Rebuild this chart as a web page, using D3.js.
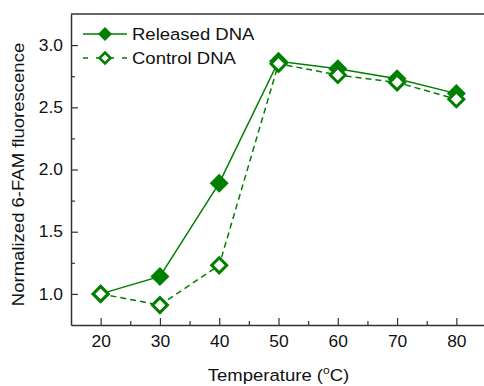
<!DOCTYPE html>
<meta charset="utf-8">
<script src="https://d3js.org/d3.v7.min.js"></script>
<style>
body { margin: 0; background: #fff; }
text { font-family: "Liberation Sans", Arial, sans-serif; fill: #111; }
.wide { transform-box: fill-box; transform-origin: center; transform: scaleX(1.09); }
.wideR { transform-box: fill-box; transform-origin: right center; transform: scaleX(1.09); }
.wideL { transform-box: fill-box; transform-origin: left center; transform: scaleX(1.09); }
</style>
<body>
<script>
// Data
var temps = [20, 30, 40, 50, 60, 70, 80];
var released = [1.00, 1.14, 1.89, 2.87, 2.81, 2.73, 2.61];
var control = [1.00, 0.91, 1.23, 2.85, 2.76, 2.70, 2.565];
var xTicks = [20, 30, 40, 50, 60, 70, 80];
var yTicks = [1.0, 1.5, 2.0, 2.5, 3.0];

var width = 484, height = 386;
var margin = {top: 14, right: -2, bottom: 61, left: 71};
var green = "#007f00", axisColor = "#333";

var svg = d3.select("body").append("svg")
    .attr("width", width).attr("height", height);

var x = d3.scaleLinear().domain([15, 85]).range([margin.left, width - margin.right]);
var y = d3.scaleLinear().domain([0.75, 3.25]).range([height - margin.bottom, margin.top]);

// frame
svg.append("line").attr("x1", margin.left).attr("x2", width)
    .attr("y1", margin.top).attr("y2", margin.top)
    .attr("stroke", axisColor).attr("stroke-width", 1.5);

// x axis, ticks inside
var xAxis = svg.append("g")
    .attr("transform", "translate(0," + (height - margin.bottom) + ")")
    .call(d3.axisBottom(x).tickValues(xTicks).tickSizeInner(-7).tickSizeOuter(0).tickFormat(d3.format("d")));
xAxis.selectAll(".tick text").attr("y", 11).attr("font-size", 16).attr("class", "wide");
svg.append("g")
    .attr("transform", "translate(0," + (height - margin.bottom) + ")")
    .call(d3.axisBottom(x).tickValues([25, 35, 45, 55, 65, 75]).tickSize(-4).tickFormat(""))
    .select(".domain").remove();

// y axis, ticks inside
var yAxis = svg.append("g")
    .attr("transform", "translate(" + margin.left + ",0)")
    .call(d3.axisLeft(y).tickValues(yTicks).tickSizeInner(-7).tickSizeOuter(0).tickFormat(d3.format(".1f")));
yAxis.selectAll(".tick text").attr("x", -8).attr("font-size", 16).attr("class", "wideR");
svg.append("g")
    .attr("transform", "translate(" + margin.left + ",0)")
    .call(d3.axisLeft(y).tickValues([1.25, 1.75, 2.25, 2.75]).tickSize(-4).tickFormat(""))
    .select(".domain").remove();

svg.selectAll(".domain").attr("stroke", axisColor).attr("stroke-width", 1.5);
svg.selectAll(".tick line").attr("stroke", axisColor).attr("stroke-width", 1.2);
svg.selectAll(".tick text").attr("fill", "#111").attr("font-family", "Liberation Sans, Arial, sans-serif");

// axis titles
svg.append("g")
    .attr("transform", "translate(24," + ((margin.top + height - margin.bottom) / 2 + 5) + ") rotate(-90)")
    .append("text").attr("class", "wide")
    .attr("text-anchor", "middle").attr("font-size", 17)
    .text("Normalized 6-FAM fluorescence");

var xt = svg.append("text").attr("class", "wide")
    .attr("x", (margin.left + width) / 2 + 1).attr("y", 381)
    .attr("text-anchor", "middle").attr("font-size", 17);
xt.append("tspan").text("Temperature (");
xt.append("tspan").attr("dy", -7).attr("font-size", 11).text("o");
xt.append("tspan").attr("dy", 7).text("C)");

// lines
var line = d3.line()
    .x(function(d, i) { return x(temps[i]); })
    .y(function(d) { return y(d); });

svg.append("path").datum(control).attr("d", line)
    .attr("fill", "none").attr("stroke", green).attr("stroke-width", 1.5)
    .attr("stroke-dasharray", "6,4");
svg.append("path").datum(released).attr("d", line)
    .attr("fill", "none").attr("stroke", green).attr("stroke-width", 1.5);

var diamond = function(cx, cy, r) {
    return "M" + cx + "," + (cy - r) + "L" + (cx + r) + "," + cy +
           "L" + cx + "," + (cy + r) + "L" + (cx - r) + "," + cy + "Z";
};

svg.selectAll(".rel").data(released).enter().append("path")
    .attr("class", "rel")
    .attr("d", function(d, i) { return diamond(x(temps[i]), y(d), 9.5); })
    .attr("fill", green);

svg.selectAll(".ctl").data(control).enter().append("path")
    .attr("class", "ctl")
    .attr("d", function(d, i) { return diamond(x(temps[i]), y(d), 7.5); })
    .attr("fill", "#fff").attr("stroke", green).attr("stroke-width", 3);

// legend
var legend = [
  {name: "Released DNA", dash: null, filled: true, y: 34},
  {name: "Control DNA", dash: "6,4", filled: false, y: 58}
];
legend.forEach(function(l) {
    svg.append("line").attr("x1", 83).attr("x2", 127).attr("y1", l.y).attr("y2", l.y)
        .attr("stroke", green).attr("stroke-width", 1.5)
        .attr("stroke-dasharray", l.dash ? "5,8" : null);
    if (l.filled) {
        svg.append("path").attr("d", diamond(105, l.y, 7)).attr("fill", green);
    } else {
        svg.append("path").attr("d", diamond(105, l.y, 5.5))
            .attr("fill", "#fff").attr("stroke", green).attr("stroke-width", 2.5);
    }
    svg.append("text").attr("class", "wideL").attr("x", 132).attr("y", l.y + 6)
        .attr("font-size", 17).text(l.name);
});
</script>
</body>
